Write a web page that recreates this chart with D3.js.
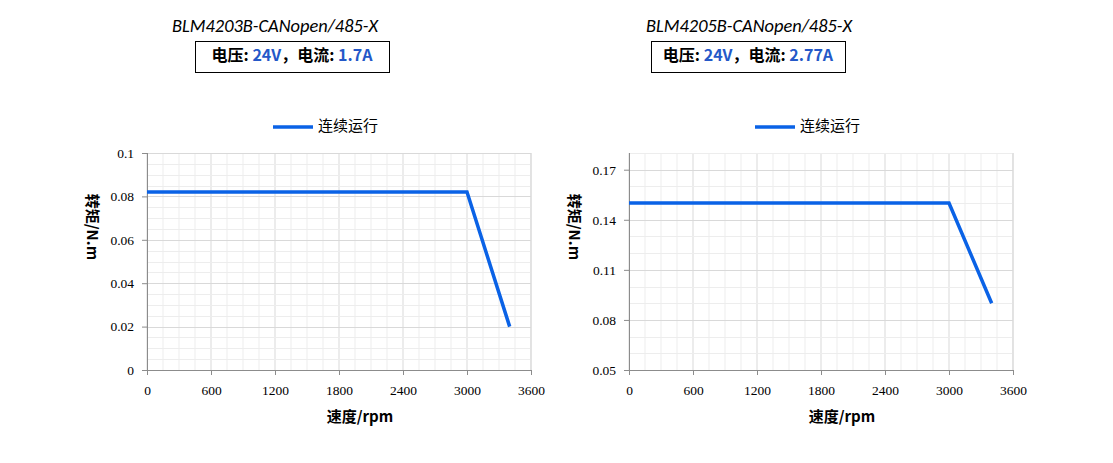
<!DOCTYPE html>
<html>
<head>
<meta charset="utf-8">
<script src="https://cdn.jsdelivr.net/npm/d3@7"></script>
<style>
  body { margin: 0; background: #fff; }
  svg { display: block; }
</style>
</head>
<body>
<svg id="chart"></svg>
<script>
// data
var speedsA = [0, 3000, 3400];
var torqueA = [0.082, 0.082, 0.02];
var speedsB = [0, 3000, 3400];
var torqueB = [0.15, 0.15, 0.09];

var xTicks = [0, 600, 1200, 1800, 2400, 3000, 3600];
var yTicksA = [0, 0.02, 0.04, 0.06, 0.08, 0.1];
var yTicksB = [0.05, 0.08, 0.11, 0.14, 0.17];

var titles = ['BLM4203B-CANopen/485-X', 'BLM4205B-CANopen/485-X'];
var voltages = ['24V', '24V'];
var currents = ['1.7A', '2.77A'];
var seriesName = '连续运行';

var width = 1113, height = 463;
var svg = d3.select('#chart').attr('width', width).attr('height', height);

var CJK = '"Noto Sans CJK SC", "Noto Sans", sans-serif';
var LINE = '#0a62e6';
var VALUE = '#2458c8';

function drawChart(opt) {
  var left = opt.left, top = 153, w = 384, h = 217;

  var x = d3.scaleLinear().domain([0, 3600]).range([left, left + w]);
  var y = d3.scaleLinear().domain(opt.yDomain).range([top + h, top]);

  var g = svg.append('g');

  // grid
  g.selectAll('.vminor').data(d3.range(0, 3600 + 1, 150))
    .enter().append('line')
      .attr('x1', function(d) { return x(d); }).attr('x2', function(d) { return x(d); })
      .attr('y1', top).attr('y2', top + h)
      .attr('stroke', function(d) { return d % 600 == 0 ? '#d9d9d9' : '#ededed'; })
      .attr('stroke-width', 1);
  g.selectAll('.hminor').data(d3.range(opt.yDomain[0], opt.yDomain[1] + opt.minor / 2, opt.minor))
    .enter().append('line')
      .attr('y1', function(d) { return Math.round(y(d)) + 0.5; })
      .attr('y2', function(d) { return Math.round(y(d)) + 0.5; })
      .attr('x1', left).attr('x2', left + w)
      .attr('stroke', '#ededed');
  g.selectAll('.hmajor').data(opt.yTicks)
    .enter().append('line')
      .attr('y1', function(d) { return Math.round(y(d)) + 0.5; })
      .attr('y2', function(d) { return Math.round(y(d)) + 0.5; })
      .attr('x1', left).attr('x2', left + w)
      .attr('stroke', '#d9d9d9');
  g.append('line')
    .attr('x1', left + w).attr('x2', left + w)
    .attr('y1', top).attr('y2', top + h)
    .attr('stroke', '#d9d9d9');

  // axes
  var yAxis = d3.axisLeft(y).tickValues(opt.yTicks).tickSize(5).tickPadding(8)
    .tickFormat(function(d) { return +d.toFixed(3) + ''; });
  var xAxis = d3.axisBottom(x).tickValues(xTicks).tickSize(5).tickPadding(10)
    .tickFormat(d3.format('d'));

  var ya = g.append('g').attr('transform', 'translate(' + left + ',0)').call(yAxis);
  var xa = g.append('g').attr('transform', 'translate(0,' + (top + h) + ')').call(xAxis);
  [ya, xa].forEach(function(a) {
    a.select('.domain').attr('stroke', '#8c8c8c');
    a.selectAll('.tick line').attr('stroke', '#8c8c8c');
    a.selectAll('text')
      .attr('fill', '#000')
      .style('font-family', '"Liberation Serif", "Times New Roman", serif')
      .style('font-size', '13.5px');
  });
  ya.select('.domain').attr('d', 'M0.5,' + top + 'V' + (top + h));

  // series line
  var line = d3.line()
    .x(function(d) { return x(d[0]); })
    .y(function(d) { return y(d[1]); });
  g.append('path')
    .datum(d3.zip(opt.speeds, opt.torque))
    .attr('d', line)
    .attr('fill', 'none')
    .attr('stroke', LINE)
    .attr('stroke-width', 3.5);

  // axis titles
  g.append('text')
    .attr('transform', 'translate(' + (left - 56) + ',' + (top + 74) + ') rotate(90)')
    .attr('text-anchor', 'middle')
    .attr('dominant-baseline', 'middle')
    .style('font-family', CJK).style('font-size', '15px').style('font-weight', 'bold')
    .text('转矩/N.m');
  g.append('text')
    .attr('x', left + w / 2 + 21).attr('y', 418)
    .attr('text-anchor', 'middle').attr('dominant-baseline', 'middle')
    .style('font-family', CJK).style('font-size', '15px').style('font-weight', 'bold')
    .text('速度/rpm');

  // legend
  var lx = left + 126;
  g.append('line')
    .attr('x1', lx).attr('x2', lx + 40).attr('y1', 127).attr('y2', 127)
    .attr('stroke', LINE).attr('stroke-width', 3.5);
  g.append('text')
    .attr('x', lx + 45).attr('y', 127).attr('dominant-baseline', 'middle')
    .style('font-family', CJK).style('font-size', '15px')
    .text(seriesName);

  // title
  g.append('text')
    .attr('x', opt.titleX).attr('y', 32)
    .attr('textLength', 206).attr('lengthAdjust', 'spacingAndGlyphs')
    .style('font-family', 'Carlito, Lato, "Open Sans", sans-serif')
    .style('font-style', 'italic').style('font-size', '19px')
    .text(opt.title);

  // spec box
  g.append('rect')
    .attr('x', opt.boxX + 0.5).attr('y', 41.5).attr('width', 194).attr('height', 31)
    .attr('fill', 'none').attr('stroke', '#000').attr('stroke-width', 1);
  var t = g.append('text')
    .attr('x', opt.boxX + 97).attr('y', 57).attr('text-anchor', 'middle')
    .attr('dominant-baseline', 'middle')
    .style('font-family', CJK).style('font-size', '16px').style('font-weight', 'bold');
  t.append('tspan').text('电压: ');
  t.append('tspan').attr('fill', VALUE).text(opt.voltage);
  t.append('tspan').text('，电流: ');
  t.append('tspan').attr('fill', VALUE).text(opt.current);
}

drawChart({
  left: 147, yDomain: [0, 0.1], yTicks: yTicksA, minor: 0.005,
  speeds: speedsA, torque: torqueA,
  title: titles[0], titleX: 172, boxX: 195,
  voltage: voltages[0], current: currents[0]
});
drawChart({
  left: 629, yDomain: [0.05, 0.18], yTicks: yTicksB, minor: 0.01,
  speeds: speedsB, torque: torqueB,
  title: titles[1], titleX: 646, boxX: 651,
  voltage: voltages[1], current: currents[1]
});
</script>
</body>
</html>
